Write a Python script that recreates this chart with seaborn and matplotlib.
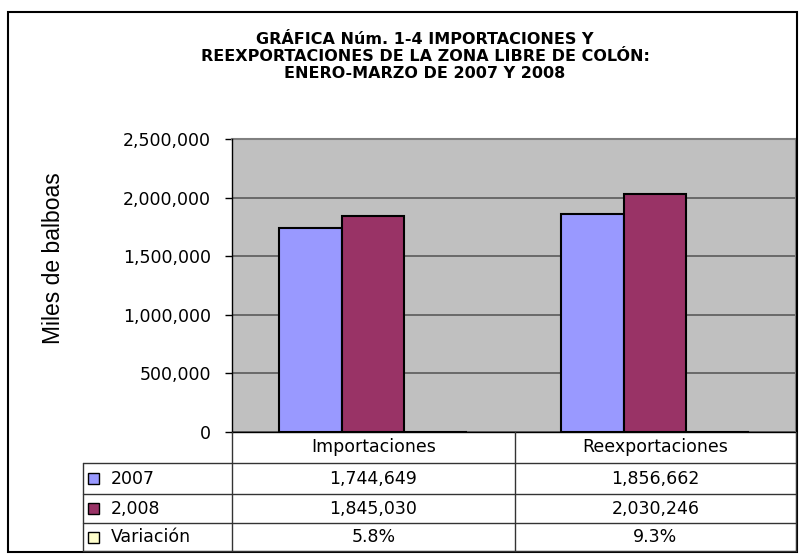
import numpy as np
import pandas as pd
import seaborn as sns
import matplotlib.pyplot as plt
from matplotlib.lines import Line2D
from matplotlib.patches import Rectangle

# data
categories = ['Importaciones', 'Reexportaciones']
series = ['2007', '2,008', 'Variación']
values_2007 = [1744649, 1856662]
values_2008 = [1845030, 2030246]
variacion = [0.058, 0.093]
colors = ['#9999FF', '#993366', '#FFFFCC']
title_lines = ['GRÁFICA Núm. 1-4 IMPORTACIONES Y',
               'REEXPORTACIONES DE LA ZONA LIBRE DE COLÓN:',
               'ENERO-MARZO DE 2007 Y 2008']
ylabel = 'Miles de balboas'

df = pd.DataFrame({
    'categoria': categories * 3,
    'serie': np.repeat(series, len(categories)),
    'valor': values_2007 + values_2008 + variacion,
})

W, H = 802, 559


def fx(x):
    return x / W


def fy(y):
    return 1 - y / H


sns.set_style('white')
plt.rcParams['font.family'] = ['DejaVu Sans']
plt.rcParams['text.color'] = 'black'
plt.rcParams['ytick.color'] = 'black'
plt.rcParams['ytick.labelcolor'] = 'black'

fig = plt.figure(figsize=(W / 100, H / 100), dpi=100)
ax = fig.add_axes([fx(232), fy(432), fx(796) - fx(232), fy(139) - fy(432)])
ax.set_facecolor('#C0C0C0')

sns.barplot(data=df, x='categoria', y='valor', hue='serie', palette=colors,
            width=0.668, saturation=1, edgecolor='black', linewidth=1.5,
            legend=False, ax=ax, zorder=3)

ax.set_xlim(-0.5, 1.5)
ax.set_ylim(0, 2500000)
ax.set_yticks(np.arange(0, 2500001, 500000))
ax.set_yticklabels([f'{v:,.0f}' for v in np.arange(0, 2500001, 500000)])
ax.set_xticks([])
ax.set_xlabel('')
ax.set_ylabel('')
ax.yaxis.grid(True, color='#5a5a5a', lw=1.2)
ax.set_axisbelow(True)
ax.tick_params(axis='y', direction='out', length=5, width=1, color='black',
               labelsize=12.5, pad=10, left=True)
for s in ['left', 'bottom']:
    ax.spines[s].set_color('black')
    ax.spines[s].set_linewidth(1)
    ax.spines[s].set_zorder(4)
for s in ['top', 'right']:
    ax.spines[s].set_color('#808080')
    ax.spines[s].set_linewidth(1.5)

# y label
fig.text(fx(53), fy(258), ylabel, rotation=90, ha='center', va='center',
         fontsize=16.5, family='Liberation Sans')

# title
for i, line in enumerate(title_lines):
    fig.text(fx(425), fy(40 + i * 16.5), line, ha='center', va='center',
             fontsize=11.5, fontweight='bold')

# data table
line_kw = dict(transform=fig.transFigure, color='#333333', lw=1)
col_x = [232, 515, 796]
row_y = [432, 463, 494, 523, 551]
for y in row_y[1:]:
    fig.add_artist(Line2D([fx(83), fx(796)], [fy(y), fy(y)], **line_kw))
for x in col_x:
    fig.add_artist(Line2D([fx(x), fx(x)], [fy(432), fy(551)], **line_kw))
fig.add_artist(Line2D([fx(83), fx(83)], [fy(463), fy(551)], **line_kw))

centers = [(col_x[0] + col_x[1]) / 2, (col_x[1] + col_x[2]) / 2]
for cx, cat in zip(centers, categories):
    fig.text(fx(cx), fy((row_y[0] + row_y[1]) / 2), cat, ha='center',
             va='center', fontsize=12.5)

rows = [
    [f'{v:,}' for v in values_2007],
    [f'{v:,}' for v in values_2008],
    [f'{v:.1%}' for v in variacion],
]
for r, (name, color, texts) in enumerate(zip(series, colors, rows)):
    yc = (row_y[r + 1] + row_y[r + 2]) / 2
    fig.add_artist(Rectangle((fx(88), fy(yc + 5.5)), fx(11), 11 / H,
                             transform=fig.transFigure, facecolor=color,
                             edgecolor='black', lw=1))
    fig.text(fx(111), fy(yc), name, ha='left', va='center', fontsize=12.5)
    for cx, t in zip(centers, texts):
        fig.text(fx(cx), fy(yc), t, ha='center', va='center', fontsize=12.5)

# outer border
fig.add_artist(Rectangle((fx(8), fy(552)), fx(797) - fx(8), fy(12) - fy(552),
                         transform=fig.transFigure, fill=False,
                         edgecolor='black', lw=1.5))

fig.savefig('out.png', dpi=100)
